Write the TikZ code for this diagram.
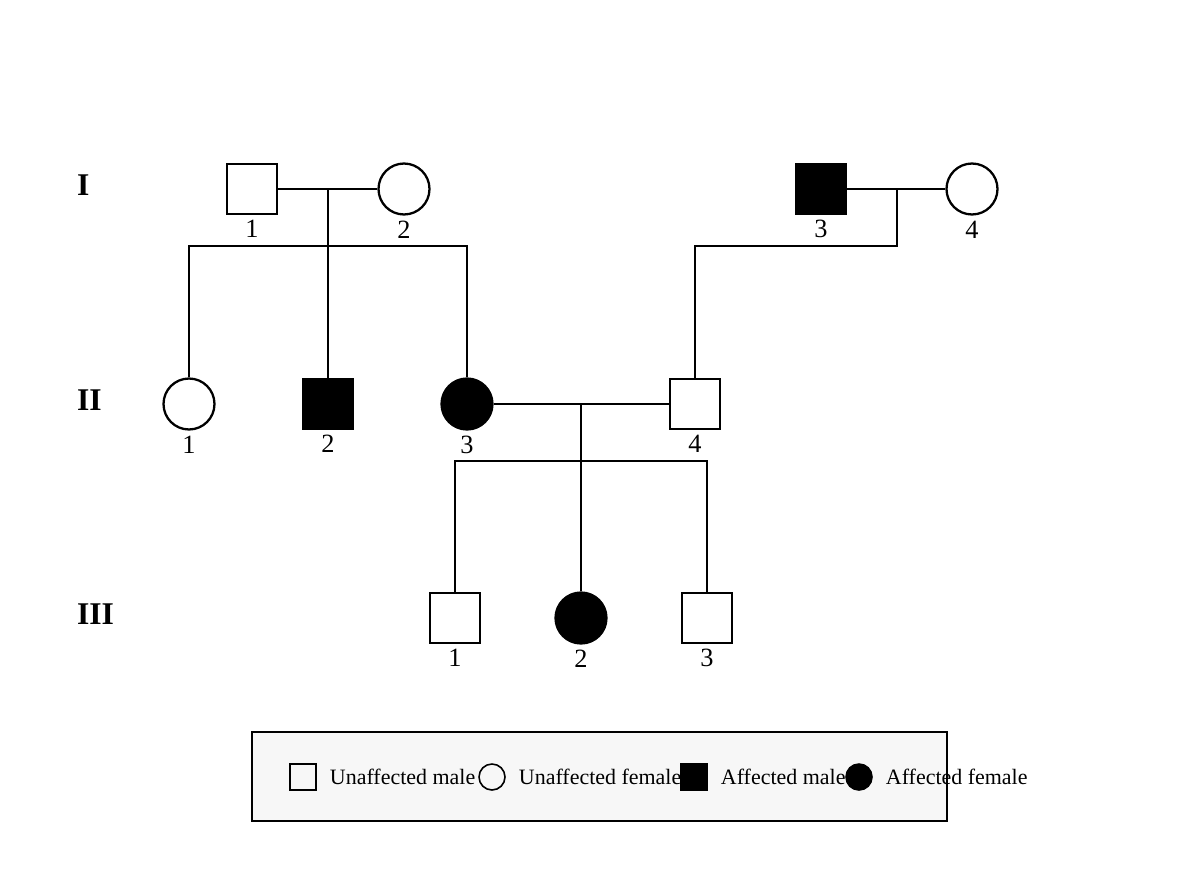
\documentclass[tikz,border=0pt]{standalone}
\usepackage{fontspec}
\setmainfont{Liberation Serif}
\usetikzlibrary{positioning}
\begin{document}
\begin{tikzpicture}[x=0.02cm,y=-0.02cm,line width=1.3pt,
        male/.style={draw,rectangle,minimum size=1cm,inner sep=0pt},
        female/.style={draw,circle,minimum size=1.02cm,inner sep=0pt},
        affected/.style={fill=black},
        num/.style={font=\fontsize{15}{15}\selectfont,inner sep=0pt},
        gen/.style={font=\fontsize{18}{18}\selectfont\bfseries,anchor=west,inner sep=0pt},
        key/.style={font=\fontsize{12.5}{12.5}\selectfont,anchor=west,inner sep=0pt},
        keym/.style={draw,rectangle,minimum size=0.52cm,inner sep=0pt,line width=0.9pt},
        keyf/.style={draw,circle,minimum size=0.52cm,inner sep=0pt,line width=0.9pt}
        ]
        \useasboundingbox (0,0) rectangle (1200,885);

        % generations
        \node[gen] (g1) at (76,185) {I};
        \node[gen] (g2) at (76,400) {II};
        \node[gen] (g3) at (76,614) {III};

        % generation I
        \node[male]           (i1) at (252,189) {};
        \node[female]         (i2) at (404,189) {};
        \node[male,affected]  (i3) at (821,189) {};
        \node[female]         (i4) at (972,189) {};

        % generation II
        \node[female]           (ii1) at (189,404) {};
        \node[male,affected]    (ii2) at (328,404) {};
        \node[female,affected]  (ii3) at (467,404) {};
        \node[male]             (ii4) at (695,404) {};

        % generation III
        \node[male]             (iii1) at (455,618) {};
        \node[female,affected]  (iii2) at (581,618) {};
        \node[male]             (iii3) at (707,618) {};

        % numbers
        \foreach \n/\k in {i1/1,i2/2,i3/3,i4/4,ii1/1,ii2/2,ii3/3,ii4/4,iii1/1,iii2/2,iii3/3}
          \node[num,below=0.08cm of \n] (\n-lab) {\k};

        % couples
        \coordinate (m1) at (328,189);
        \coordinate (s1) at (328,246);
        \coordinate (m2) at (897,189);
        \coordinate (s2) at (897,246);
        \coordinate (m3) at (581,404);
        \coordinate (s3) at (581,461);

        \draw (i1) -- (i2);
        \draw (i3) -- (i4);
        \draw (ii3) -- (ii4);

        \draw (m1) -- (ii2);
        \draw (ii1) |- (s1) -| (ii3);

        \draw (m2) -- (s2) -| (ii4);

        \draw (m3) -- (iii2);
        \draw (iii1) |- (s3) -| (iii3);

        % legend
        \node[draw,fill=gray!6,line width=0.9pt,minimum width=13.9cm,minimum height=1.78cm] (legend) at (599.5,776.5) {};
        \node[keym]           (k1) at (303,777) {};
        \node[key,right=0.24cm of k1] (k1-t) {Unaffected male};
        \node[keyf]           (k2) at (492,777) {};
        \node[key,right=0.24cm of k2] (k2-t) {Unaffected female};
        \node[keym,affected]  (k3) at (694,777) {};
        \node[key,right=0.24cm of k3] (k3-t) {Affected male};
        \node[keyf,affected]  (k4) at (859,777) {};
        \node[key,right=0.24cm of k4] (k4-t) {Affected female};
      \end{tikzpicture}
\end{document}
